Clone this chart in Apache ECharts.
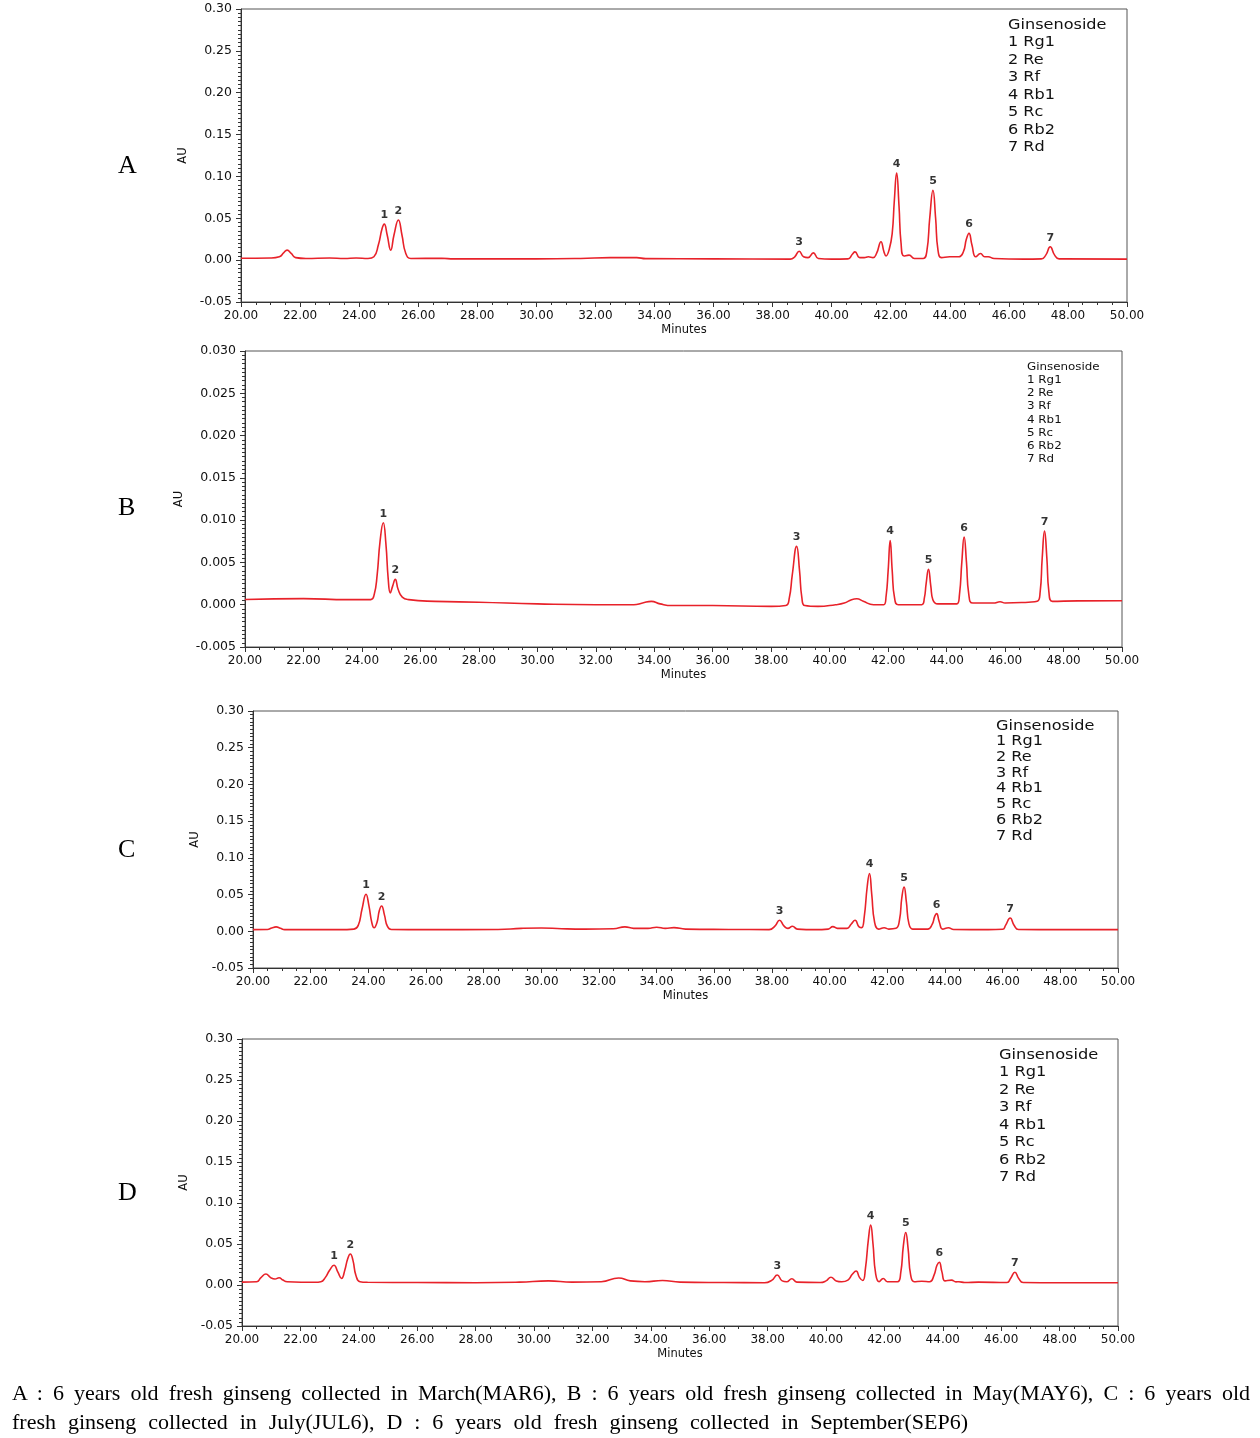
<!DOCTYPE html>
<html>
<head>
<meta charset="utf-8">
<script src="https://cdn.jsdelivr.net/npm/echarts@6/dist/echarts.min.js"></script>
<style>
html,body{margin:0;padding:0;background:#fff;}
#chart{position:absolute;left:0;top:0;width:1260px;height:1438px;}
#cap{position:absolute;left:12px;top:1378px;width:1238px;font-family:"Liberation Serif","Times New Roman",serif;font-size:22px;line-height:29px;color:#000;}
#cap .l1{width:1238px;text-align:justify;text-align-last:justify;white-space:nowrap;}
#cap .l2{width:956px;text-align:justify;text-align-last:justify;white-space:nowrap;}
</style>
</head>
<body>
<div id="chart"></div>
<div id="cap"><div class="l1">A : 6 years old fresh ginseng collected in March(MAR6), B : 6 years old fresh ginseng collected in May(MAY6), C : 6 years old</div><div class="l2">fresh ginseng collected in July(JUL6), D : 6 years old fresh ginseng collected in September(SEP6)</div></div>
<script>
// ---- data: [minutes, AU] ----
const traceA = [[20.0,0.0022],[21.0,0.0025],[21.3,0.004],[21.45,0.009],[21.56,0.012],[21.7,0.008],[21.85,0.003],[22.2,0.002],[23.0,0.0025],[23.5,0.002],[23.9,0.0025],[24.3,0.002],[24.5,0.004],[24.65,0.018],[24.78,0.038],[24.85,0.043],[24.95,0.030],[25.07,0.012],[25.18,0.030],[25.33,0.048],[25.45,0.030],[25.58,0.008],[25.75,0.002],[26.8,0.0022],[27.2,0.0015],[30.0,0.0015],[31.5,0.002],[32.5,0.003],[33.4,0.003],[33.7,0.0018],[36,0.0015],[38.6,0.0012],[38.75,0.004],[38.9,0.0107],[39.05,0.004],[39.2,0.003],[39.38,0.0087],[39.55,0.002],[40.0,0.0012],[40.55,0.0015],[40.7,0.007],[40.79,0.0099],[40.95,0.003],[41.1,0.003],[41.24,0.004],[41.4,0.003],[41.52,0.008],[41.67,0.022],[41.77,0.010],[41.84,0.005],[41.95,0.013],[42.05,0.032],[42.12,0.07],[42.2,0.104],[42.28,0.065],[42.35,0.02],[42.45,0.005],[42.62,0.006],[42.8,0.002],[43.1,0.002],[43.22,0.01],[43.32,0.05],[43.43,0.0835],[43.52,0.05],[43.6,0.012],[43.72,0.003],[44.0,0.004],[44.3,0.004],[44.46,0.01],[44.56,0.025],[44.65,0.032],[44.75,0.018],[44.88,0.004],[45.04,0.008],[45.18,0.004],[45.3,0.004],[45.5,0.002],[46.5,0.0012],[47.1,0.0015],[47.25,0.006],[47.4,0.016],[47.55,0.006],[47.7,0.0015],[50.0,0.0012]];
const peaksA = [[24.85,0.043],[25.33,0.048],[38.9,0.0107],[42.2,0.104],[43.43,0.0835],[44.65,0.032],[47.4,0.016]];

const traceB = [[20.0,0.00062],[22.0,0.00072],[23.5,0.0006],[24.3,0.0006],[24.42,0.0012],[24.52,0.0035],[24.62,0.0075],[24.73,0.0097],[24.82,0.0072],[24.9,0.003],[24.97,0.0014],[25.05,0.0022],[25.14,0.003],[25.24,0.0018],[25.38,0.0009],[25.6,0.0006],[26.5,0.0004],[28,0.0003],[30,0.0001],[32,0.0],[33.3,0.0],[33.6,0.0002],[33.9,0.0004],[34.2,0.0001],[34.6,-0.0001],[36,-0.0001],[38.0,-0.0002],[38.5,-0.0001],[38.62,0.0008],[38.72,0.0035],[38.87,0.0069],[38.97,0.004],[39.05,0.0008],[39.15,-0.0001],[39.6,-0.0002],[40.2,0.0],[40.5,0.0002],[40.75,0.0006],[40.93,0.0007],[41.15,0.0004],[41.5,0.0],[41.85,0.0],[41.93,0.001],[42.0,0.004],[42.07,0.0076],[42.14,0.004],[42.22,0.0008],[42.35,0.0],[43.15,0.0],[43.24,0.0008],[43.3,0.0025],[43.38,0.0042],[43.46,0.0022],[43.53,0.0006],[43.7,0.0001],[44.35,0.0001],[44.44,0.0012],[44.52,0.005],[44.6,0.008],[44.68,0.005],[44.76,0.0012],[44.9,0.0002],[45.6,0.0002],[45.83,0.00035],[46.0,0.0002],[46.8,0.0003],[47.1,0.0004],[47.2,0.0015],[47.27,0.0055],[47.35,0.0087],[47.43,0.0055],[47.5,0.0015],[47.62,0.0004],[48.5,0.00045],[50.0,0.00047]];
const peaksB = [[24.73,0.0097],[25.14,0.003],[38.87,0.0069],[42.07,0.0076],[43.38,0.0042],[44.6,0.008],[47.35,0.0087]];

const traceC = [[20.0,0.0023],[20.5,0.0025],[20.65,0.0045],[20.8,0.006],[20.95,0.004],[21.1,0.0023],[23.0,0.0023],[23.5,0.003],[23.65,0.008],[23.78,0.03],[23.92,0.0504],[24.02,0.035],[24.12,0.012],[24.2,0.0048],[24.3,0.012],[24.38,0.028],[24.46,0.0345],[24.56,0.022],[24.66,0.007],[24.8,0.0025],[26,0.0023],[28.5,0.0025],[29.3,0.004],[30,0.0045],[30.7,0.0035],[31.5,0.003],[32.5,0.0035],[32.9,0.006],[33.2,0.004],[33.7,0.004],[34.0,0.0055],[34.3,0.004],[34.6,0.005],[35.0,0.003],[36.5,0.0025],[37.9,0.0023],[38.1,0.007],[38.26,0.015],[38.42,0.007],[38.55,0.004],[38.71,0.0068],[38.88,0.003],[39.5,0.0023],[39.95,0.003],[40.11,0.0064],[40.27,0.004],[40.42,0.004],[40.6,0.004],[40.75,0.010],[40.88,0.015],[41.02,0.006],[41.11,0.005],[41.2,0.02],[41.3,0.06],[41.38,0.0786],[41.46,0.05],[41.56,0.012],[41.7,0.003],[41.89,0.0048],[42.05,0.003],[42.3,0.004],[42.42,0.015],[42.5,0.045],[42.58,0.0604],[42.66,0.04],[42.75,0.01],[42.88,0.003],[43.11,0.003],[43.4,0.003],[43.55,0.009],[43.65,0.021],[43.71,0.024],[43.8,0.013],[43.92,0.003],[44.12,0.0048],[44.3,0.0025],[45.5,0.0023],[46.0,0.0028],[46.1,0.008],[46.26,0.018],[46.4,0.008],[46.55,0.0025],[48,0.0023],[50,0.0023]];
const peaksC = [[23.92,0.0504],[24.46,0.0345],[38.26,0.015],[41.38,0.0786],[42.58,0.0604],[43.71,0.024],[46.26,0.018]];

const traceD = [[20.0,0.0035],[20.5,0.004],[20.65,0.009],[20.82,0.0134],[20.98,0.009],[21.13,0.0073],[21.27,0.0089],[21.4,0.006],[21.55,0.004],[22.5,0.0033],[22.7,0.004],[22.85,0.009],[23.0,0.018],[23.15,0.024],[23.28,0.016],[23.41,0.008],[23.52,0.018],[23.62,0.032],[23.71,0.0378],[23.8,0.03],[23.9,0.012],[24.04,0.004],[24.3,0.0033],[26,0.003],[28,0.0028],[29.5,0.0035],[30.5,0.005],[31.3,0.0035],[32.3,0.004],[32.9,0.0085],[33.3,0.005],[33.8,0.004],[34.4,0.0055],[35,0.0035],[36.5,0.003],[37.9,0.0028],[38.15,0.006],[38.33,0.0122],[38.5,0.005],[38.65,0.004],[38.83,0.0077],[39.0,0.0035],[39.8,0.003],[40.0,0.005],[40.17,0.0094],[40.35,0.005],[40.54,0.004],[40.75,0.006],[40.9,0.013],[41.03,0.0171],[41.15,0.009],[41.26,0.0055],[41.35,0.02],[41.45,0.055],[41.53,0.073],[41.61,0.05],[41.7,0.014],[41.82,0.004],[41.96,0.008],[42.1,0.004],[42.45,0.004],[42.56,0.015],[42.65,0.048],[42.73,0.064],[42.81,0.045],[42.9,0.012],[43.02,0.004],[43.28,0.0045],[43.55,0.004],[43.7,0.012],[43.8,0.024],[43.88,0.0277],[43.97,0.016],[44.08,0.005],[44.3,0.006],[44.45,0.0038],[44.55,0.004],[44.75,0.003],[45.22,0.0035],[46.2,0.003],[46.32,0.008],[46.47,0.0155],[46.6,0.008],[46.75,0.003],[48,0.0028],[50,0.0028]];
const peaksD = [[23.15,0.024],[23.71,0.0378],[38.33,0.0122],[41.53,0.073],[42.73,0.064],[43.88,0.0277],[46.47,0.0155]];

const legendLines = ['Ginsenoside','1 Rg1','2 Re','3 Rf','4 Rb1','5 Rc','6 Rb2','7 Rd'];
const panelNames = ['A','B','C','D'];
const xLabelName = 'Minutes';
const yLabelName = 'AU';

// ---- layout ----
const panels = [
  {trace:traceA, peaks:peaksA, grid:{left:241,top:9,width:886,height:293}, ymin:-0.05, ymax:0.30, yint:0.05, dec:2, lab:[128,168], leg:{x:1008,y:25,dy:17.5,fs:14,sx:1.15}, auGap:47},
  {trace:traceB, peaks:peaksB, grid:{left:245,top:351,width:877,height:296}, ymin:-0.005, ymax:0.030, yint:0.005, dec:3, lab:[128,510], leg:{x:1027,y:367,dy:13.2,fs:11,sx:1.08}, auGap:54},
  {trace:traceC, peaks:peaksC, grid:{left:253,top:711,width:865,height:257}, ymin:-0.05, ymax:0.30, yint:0.05, dec:2, lab:[128,852], leg:{x:996,y:726,dy:15.7,fs:14,sx:1.15}, auGap:45},
  {trace:traceD, peaks:peaksD, grid:{left:242,top:1039,width:876,height:287}, ymin:-0.05, ymax:0.30, yint:0.05, dec:2, lab:[128,1195], leg:{x:999,y:1055,dy:17.5,fs:14,sx:1.16}, auGap:45}
];

const FONT = '"DejaVu Sans", Arial, sans-serif';
const grids=[], xAxes=[], yAxes=[], series=[], graphics=[];
panels.forEach((p,i)=>{
  grids.push(Object.assign({show:true, borderColor:'#555', borderWidth:1, containLabel:false}, p.grid));
  xAxes.push({type:'value', gridIndex:i, min:20, max:50, interval:2,
    name:xLabelName, nameLocation:'middle', nameGap:22, nameTextStyle:{fontFamily:FONT,fontSize:11.5,color:'#111'},
    axisLine:{show:true,onZero:false,lineStyle:{color:'#333',width:1}},
    axisTick:{show:true,inside:false,length:5,lineStyle:{color:'#333'}},
    minorTick:{show:true,splitNumber:4,length:3,lineStyle:{color:'#333'}},
    splitLine:{show:false},
    axisLabel:{fontFamily:FONT,fontSize:12,color:'#111',margin:8,formatter:v=>v.toFixed(2)}});
  yAxes.push({type:'value', gridIndex:i, min:p.ymin, max:p.ymax, interval:p.yint,
    name:yLabelName, nameLocation:'middle', nameGap:p.auGap, nameRotate:90, nameTextStyle:{fontFamily:FONT,fontSize:11.5,color:'#111'},
    axisLine:{show:true,onZero:false,lineStyle:{color:'#333',width:1}},
    axisTick:{show:true,inside:false,length:5,lineStyle:{color:'#333'}},
    minorTick:{show:true,splitNumber:10,length:3,lineStyle:{color:'#333'}},
    splitLine:{show:false},
    axisLabel:{fontFamily:FONT,fontSize:12.5,color:'#111',margin:9,formatter:v=>{if(Math.abs(v)<1e-9)v=0;return v.toFixed(p.dec);}}});
  series.push({type:'line', xAxisIndex:i, yAxisIndex:i, data:p.trace, showSymbol:false, symbol:'none',
    smooth:0.5, lineStyle:{color:'#e8222a',width:1.6}, silent:true, z:3});
  series.push({type:'scatter', xAxisIndex:i, yAxisIndex:i, symbolSize:1, itemStyle:{color:'rgba(0,0,0,0)'},
    data:p.peaks.map((pt,k)=>({value:pt,name:String(k+1)})),
    label:{show:true,position:'top',distance:3,formatter:'{b}',fontFamily:FONT,fontSize:11,fontWeight:'bold',color:'#000'}, silent:true, z:4});
  graphics.push({type:'text', left:p.lab[0]-10, top:p.lab[1]-15, style:{text:panelNames[i], font:'26px "Liberation Serif", serif', fill:'#000'}});
  legendLines.forEach((t,k)=>{
    graphics.push({type:'text', x:p.leg.x, y:p.leg.y+k*p.leg.dy, scaleX:p.leg.sx, style:{text:t, fontFamily:FONT, fontSize:p.leg.fs, fill:'#111', verticalAlign:'middle', align:'left'}});
  });
});

const chart = echarts.init(document.getElementById('chart'), null, {renderer:'canvas'});
chart.setOption({animation:false, backgroundColor:'#fff', grid:grids, xAxis:xAxes, yAxis:yAxes, series:series, graphic:graphics});
</script>
</body>
</html>
